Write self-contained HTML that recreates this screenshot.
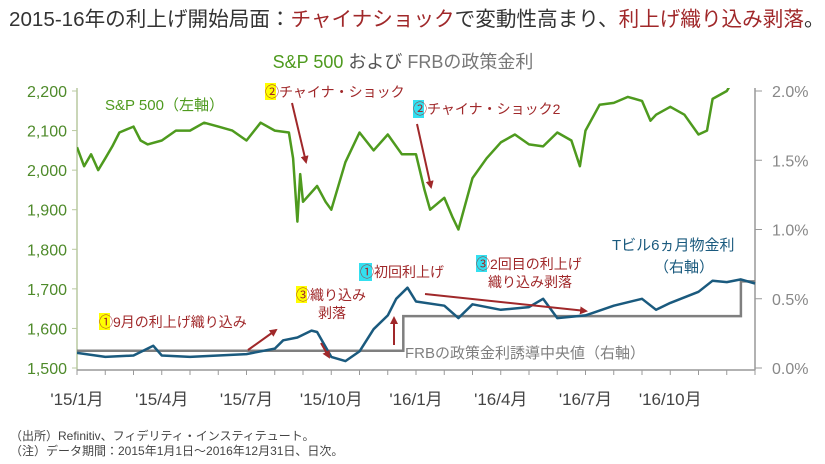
<!DOCTYPE html>
<html><head><meta charset="utf-8"><style>
body{margin:0;background:#fff;width:825px;height:464px;overflow:hidden;font-family:"Liberation Sans","Noto Sans CJK JP",sans-serif}
svg{display:block}
text{font-family:"Liberation Sans","Noto Sans CJK JP",sans-serif}
</style></head><body>
<svg id="c" width="825" height="464">
<defs><marker id="ah" markerWidth="8" markerHeight="8" refX="6" refY="4" orient="auto" markerUnits="userSpaceOnUse"><path d="M0,0L8,4L0,8z" fill="#a0282a"/></marker>
<clipPath id="clip"><rect x="77" y="88" width="680" height="283"/></clipPath></defs>
<text x="9" y="26" font-size="20.6" fill="#333">2015-16年の利上げ開始局面：<tspan fill="#a0282a">チャイナショック</tspan>で変動性高まり、<tspan fill="#a0282a">利上げ織り込み剥落</tspan>。</text>
<text x="403" y="68" font-size="18" text-anchor="middle" fill="#555"><tspan fill="#4e9a1e">S&amp;P 500</tspan> および <tspan fill="#777">FRBの政策金利</tspan></text>
<g id="axes"></g>
<g id="marks" clip-path="url(#clip)"></g>
<g id="ann" fill="#a0282a" font-size="14">
<text x="105" y="110" fill="#4e9a1e" font-size="15">S&amp;P 500（左軸）</text>
<rect x="265" y="83" width="11" height="17" fill="#ffff00"/><text x="265" y="97">②チャイナ・ショック</text>
<rect x="413" y="100" width="11" height="18" fill="#33e0f0"/><text x="413" y="114">②チャイナ・ショック2</text>
<rect x="99" y="313" width="11" height="17" fill="#ffff00"/><text x="99" y="327">①9月の利上げ織り込み</text>
<rect x="296" y="286" width="11" height="17" fill="#ffff00"/><text x="296" y="300">③織り込み</text>
<text x="318" y="318">剥落</text>
<rect x="359" y="263" width="13" height="18" fill="#33e0f0"/><text x="360" y="277">①初回利上げ</text>
<rect x="476" y="255" width="11" height="17" fill="#33e0f0"/><text x="476" y="269">③2回目の利上げ</text>
<text x="488" y="287">織り込み剥落</text>
<text x="612" y="250" fill="#1a5a7e" font-size="15">Tビル6ヵ月物金利</text>
<text x="654" y="272" fill="#1a5a7e" font-size="15">（右軸）</text>
<text x="405" y="358" fill="#7f7f7f" font-size="15">FRBの政策金利誘導中央値（右軸）</text>
<g stroke="#a0282a" stroke-width="2" marker-end="url(#ah)" fill="none">
<line x1="292" y1="103" x2="306" y2="162"/>
<line x1="417" y1="124" x2="431" y2="187"/>
<line x1="248" y1="350" x2="276" y2="330"/>
<line x1="321" y1="343" x2="329" y2="357"/>
<line x1="394" y1="345" x2="394" y2="318"/>
<line x1="425" y1="294" x2="586" y2="311"/>
</g></g>
<text x="10" y="440" font-size="12" fill="#444">（出所）Refinitiv、フィデリティ・インスティテュート。</text>
<text x="10" y="455" font-size="12" fill="#444">（注）データ期間：2015年1月1日～2016年12月31日、日次。</text>
</svg>
<script>
const spT=[0,0.25,0.5,0.75,1,1.25,1.5,2,2.25,2.5,3,3.5,4,4.5,5,5.5,6,6.5,7,7.5,7.65,7.8,7.9,8,8.5,8.8,9,9.5,10,10.5,11,11.5,12,12.3,12.5,13,13.3,13.5,14,14.5,15,15.5,16,16.5,17,17.5,17.8,18,18.5,19,19.5,20,20.3,20.5,21,21.5,22,22.3,22.5,23,23.5,24];
const spVals=[2058,2010,2040,2000,2030,2060,2095,2110,2075,2065,2075,2100,2100,2120,2110,2100,2075,2120,2100,2095,2030,1870,1990,1920,1960,1920,1900,2020,2095,2050,2090,2040,2040,1950,1900,1930,1880,1850,1980,2030,2070,2090,2065,2060,2095,2075,2010,2100,2165,2170,2185,2175,2125,2140,2160,2140,2090,2100,2180,2200,2260,2250];
const tbT=[0,1,2,2.7,3,4,5,6,7,7.3,7.8,8.3,8.5,9,9.5,10,10.5,11,11.3,11.7,12,13,13.5,14,15,16,16.5,17,17.5,18,19,20,20.5,21,22,22.5,23,23.5,24];
const tbVals=[0.11,0.08,0.09,0.16,0.09,0.08,0.09,0.1,0.14,0.2,0.22,0.27,0.26,0.08,0.05,0.12,0.28,0.38,0.5,0.58,0.48,0.45,0.36,0.46,0.42,0.44,0.5,0.36,0.37,0.38,0.45,0.5,0.42,0.47,0.55,0.63,0.62,0.64,0.61];
const frbT=[0,11.55,11.55,23.5,23.5,24];
const frbVals=[0.125,0.125,0.375,0.375,0.625,0.625];
const leftTicks=[1500,1600,1700,1800,1900,2000,2100,2200];
const leftLabels=["1,500","1,600","1,700","1,800","1,900","2,000","2,100","2,200"];
const rightTicks=[0,0.5,1,1.5,2];
const rightLabels=["0.0%","0.5%","1.0%","1.5%","2.0%"];
const xLabelMonths=[0,3,6,9,12,15,18,21];
const xLabels=["'15/1月","'15/4月","'15/7月","'15/10月","'16/1月","'16/4月","'16/7月","'16/10月"];
const NS="http://www.w3.org/2000/svg";
const X=t=>77+t*(678/24), YL=v=>368-(v-1500)*(277/700), YR=v=>368-v*(277/2);
function mk(tag,a,p){const e=document.createElementNS(NS,tag);for(const k in a)e.setAttribute(k,a[k]);p.appendChild(e);return e;}
const ax=document.getElementById('axes'),mg=document.getElementById('marks');
const la=mk('line',{x1:77,y1:88,x2:77,y2:370,stroke:'#b9c9a0','stroke-width':1.5},ax);


const ra=mk('line',{x1:755,y1:88,x2:755,y2:370,stroke:'#999','stroke-width':1.5},ax);


const xa=mk('line',{x1:77,y1:370,x2:755,y2:370,stroke:'#999','stroke-width':1.5},ax);


leftTicks.forEach((v,i)=>{mk('line',{x1:72,x2:77,y1:YL(v),y2:YL(v),stroke:'#b9c9a0'},ax);
const t=mk('text',{x:67,y:YL(v)+6,'text-anchor':'end','font-size':16,fill:'#4e8a2a'},ax);t.textContent=leftLabels[i];

});
rightTicks.forEach((v,i)=>{mk('line',{x1:755,x2:762,y1:YR(v),y2:YR(v),stroke:'#999'},ax);
const t=mk('text',{x:772,y:YR(v)+6,'font-size':16,fill:'#888'},ax);t.textContent=rightLabels[i];

});
for(let m=0;m<=24;m++)mk('line',{x1:X(m),x2:X(m),y1:370,y2:375,stroke:'#999'},ax);
xLabelMonths.forEach((m,i)=>{const t=mk('text',{x:X(m),y:405,'text-anchor':'middle','font-size':17,fill:'#444'},ax);t.textContent=xLabels[i];

});
function path(T,V,f){return T.map((t,i)=>(i?'L':'M')+X(t).toFixed(1)+','+f(V[i]).toFixed(1)).join('');}
const fp=mk('path',{d:path(frbT,frbVals,YR),fill:'none',stroke:'#7f7f7f','stroke-width':2.5},mg);


const tp=mk('path',{d:path(tbT,tbVals,YR),fill:'none',stroke:'#1a5a7e','stroke-width':2.5,'stroke-linejoin':'round'},mg);


const sp=mk('path',{d:path(spT,spVals,YL),fill:'none',stroke:'#4e9a1e','stroke-width':2.5,'stroke-linejoin':'round'},mg);


</script>
</body></html>
